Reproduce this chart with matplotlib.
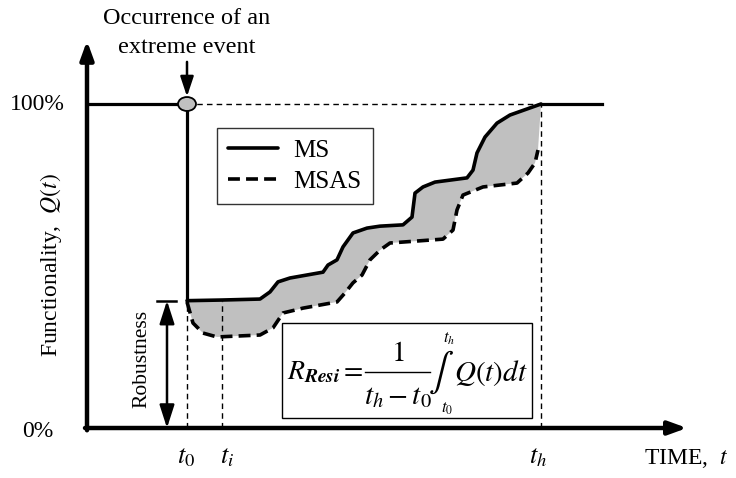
import numpy as np
import matplotlib
matplotlib.use('Agg')
import matplotlib.pyplot as plt
from matplotlib.patches import Ellipse, Rectangle

plt.rcParams['font.family'] = ['Liberation Serif', 'DejaVu Serif']
plt.rcParams['mathtext.fontset'] = 'stix'

# tiempos caracteristicos y nivel de robustez
t0 = 10.0
ti = 13.5
th = 45.4
t_fin = 51.5
robustez = 39.3

# curva MS (linea continua)
ms_t = [10.0, 13.5, 17.3, 18.3, 19.1, 20.3, 23.6, 24.1, 25.0, 25.6, 26.6, 28.0, 29.3,
        31.6, 32.5, 32.8, 33.6, 34.8, 38.0, 38.6, 39.0, 39.8, 41.0, 42.3, 45.4]
ms_q = [39.3, 39.5, 39.8, 42.0, 45.1, 46.3, 48.1, 50.3, 51.9, 55.9, 60.2, 61.7, 62.3,
        62.7, 65.1, 72.5, 74.4, 75.9, 77.2, 79.6, 84.9, 89.8, 94.1, 96.6, 100.0]

# curva MSAS (linea de trazos)
msas_t = [10.0, 10.6, 11.6, 13.0, 17.3, 18.6, 19.6, 21.6, 25.0, 25.8, 26.6, 27.5, 28.3,
          29.3, 30.3, 35.6, 36.6, 37.0, 37.6, 39.6, 43.0, 44.1, 44.8, 45.1]
msas_q = [38.9, 32.4, 29.3, 28.1, 28.7, 30.9, 35.5, 37.0, 38.9, 41.7, 44.8, 47.2, 51.9,
          54.9, 57.1, 58.3, 61.1, 67.3, 71.9, 74.4, 75.6, 78.7, 81.8, 85.8]

fig = plt.figure(figsize=(7.36, 4.78), dpi=100)
ax = fig.add_axes([0, 0, 1, 1])
ax.set_xlim(-8.7, 64.9)
ax.set_ylim(-15.43, 132.1)
ax.axis('off')

# area sombreada entre curvas
ax.fill(np.concatenate([ms_t, msas_t[::-1]]), np.concatenate([ms_q, msas_q[::-1]]),
        color='#c0c0c0', lw=0, zorder=1)

# lineas guia
ax.plot([t0, th], [100, 100], 'k', lw=1, dashes=(4, 3), zorder=2)
ax.plot([t0, t0], [0, robustez], 'k', lw=1, dashes=(4, 3), zorder=2)
ax.plot([ti, ti], [0, robustez], 'k', lw=1, dashes=(4, 3), zorder=2)
ax.plot([th, th], [0, 100], 'k', lw=1, dashes=(4, 3), zorder=2)

# funcionalidad antes y despues del evento
ax.plot([0, t0], [100, 100], 'k', lw=2.3, zorder=3)
ax.plot([t0, t0], [100, robustez], 'k', lw=2.3, zorder=3)
ax.plot([th, t_fin], [100, 100], 'k', lw=2.3, zorder=3)
ax.plot(ms_t, ms_q, 'k', lw=2.6, solid_joinstyle='round', solid_capstyle='round', zorder=4, label='MS')
ax.plot(msas_t, msas_q, 'k', lw=2.6, dashes=(3.3, 1.7), zorder=4, label='MSAS')

ax.add_patch(Ellipse((t0, 100), 1.8, 4.3, facecolor='#c0c0c0', edgecolor='k', lw=1.3, zorder=5))

# ejes con flechas
ax.annotate('', xy=(0, 119.5), xytext=(0, -0.7),
            arrowprops=dict(arrowstyle='-|>,head_length=1.1,head_width=0.4', lw=3.2, color='k',
                            shrinkA=0, shrinkB=0), zorder=6)
ax.annotate('', xy=(60, 0), xytext=(-0.2, 0),
            arrowprops=dict(arrowstyle='-|>,head_length=1.1,head_width=0.4', lw=3.2, color='k',
                            shrinkA=0, shrinkB=0), zorder=6)

# flecha del evento
ax.annotate('', xy=(t0, 102.3), xytext=(t0, 113.0),
            arrowprops=dict(arrowstyle='-|>,head_length=1.2,head_width=0.4', lw=1.8, color='k',
                            shrinkA=0, shrinkB=0))
ax.text(t0, 126.5, 'Occurrence of an', ha='center', va='center', fontsize=17.5)
ax.text(t0, 117.3, 'extreme event', ha='center', va='center', fontsize=17.5)

# robustez
ax.annotate('', xy=(8.0, robustez), xytext=(8.0, 0),
            arrowprops=dict(arrowstyle='<|-|>,head_length=1.4,head_width=0.45', lw=1.8, color='k',
                            shrinkA=0, shrinkB=0))
ax.plot([7.0, 8.9], [robustez, robustez], 'k', lw=1.8)
ax.text(5.5, 21.3, 'Robustness', rotation=90, ha='center', va='center', fontsize=15.5)

# etiquetas de ejes
ax.text(-2.2, 99.7, '100%', ha='right', va='center', fontsize=17)
ax.text(-3.4, -1.2, '0%', ha='right', va='center', fontsize=17)
ax.text(-3.6, 50.3, 'Functionality,  $Q(t)$', rotation=90, ha='center', va='center', fontsize=17)
ax.text(9.9, -9.3, r'$t_{\mathit{0}}$', ha='center', va='center', fontsize=19)
ax.text(14.0, -9.3, r'$t_i$', ha='center', va='center', fontsize=19)
ax.text(45.1, -9.3, r'$t_h$', ha='center', va='center', fontsize=19)
ax.text(64.1, -9.3, 'TIME,  $t$', ha='right', va='center', fontsize=17)

# leyenda
leg = ax.legend(loc='upper left', bbox_to_anchor=(0.295, 0.732), fontsize=18, frameon=True,
                fancybox=False, edgecolor='k', handlelength=2.0, borderpad=0.45,
                labelspacing=0.35, handletextpad=0.6, borderaxespad=0)
leg.get_frame().set_linewidth(1.0)

# recuadro con la formula
ax.add_patch(Rectangle((19.5, 3.1), 25.0, 29.3, fill=True, facecolor='white', edgecolor='k',
                       lw=1.0, zorder=5))
ax.text(20.0, 17.0, r'$R_{\mathbfit{Resi}}$', ha='left', va='center', fontsize=20, zorder=6)
ax.text(26.4, 17.6, r'$=$', ha='center', va='center', fontsize=20, zorder=6)
ax.plot([27.8, 34.3], [17.3, 17.3], 'k', lw=1.0, zorder=6)
ax.text(31.1, 22.8, r'$1$', ha='center', va='center', fontsize=21, zorder=6)
ax.text(31.1, 9.6, r'$t_h-t_0$', ha='center', va='center', fontsize=21, zorder=6)
ax.text(35.4, 17.3, r'$\int$', ha='center', va='center', fontsize=27, zorder=6)
ax.text(36.2, 27.6, r'$t_h$', ha='center', va='center', fontsize=12, zorder=6)
ax.text(36.0, 6.0, r'$t_0$', ha='center', va='center', fontsize=12, zorder=6)
ax.text(36.7, 17.0, r'$Q(t)dt$', ha='left', va='center', fontsize=21, zorder=6)

fig.savefig('out.png', dpi=100)
